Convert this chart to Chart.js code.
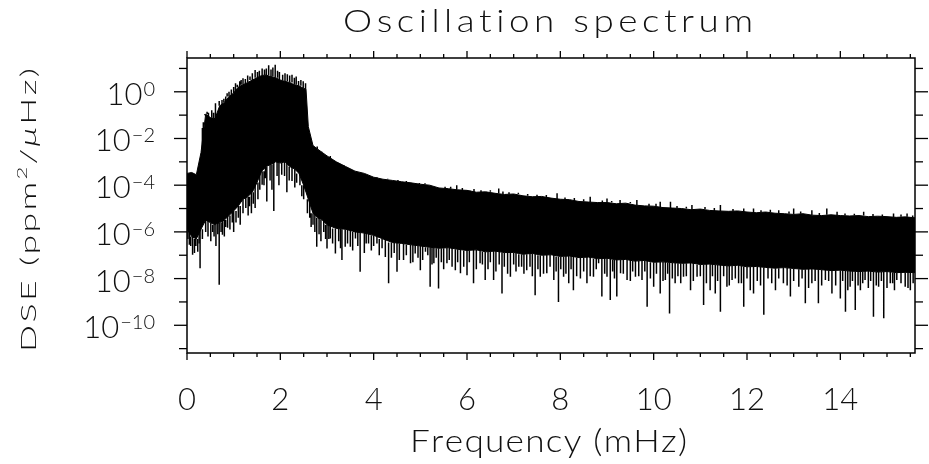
<!DOCTYPE html>
<html>
<head>
<meta charset="utf-8">
<title>Oscillation spectrum</title>
<script src="https://cdn.jsdelivr.net/npm/chart.js@4.4.1/dist/chart.umd.min.js"></script>
<style>
  html, body { margin: 0; padding: 0; background: #fff; }
  #wrap { width: 929px; height: 464px; }
</style>
</head>
<body>
<div id="wrap"><canvas id="spectrum" width="929" height="464"></canvas></div>
<script>
// Frequency grid (mHz) for the envelope of the spectrum
const freq = [
  0, 0.1, 0.2, 0.3, 0.4, 0.5, 0.6, 0.7, 0.8, 0.9,
  1.0, 1.1, 1.2, 1.3, 1.4, 1.5, 1.6, 1.7, 1.8, 1.9,
  2.0, 2.1, 2.2, 2.3, 2.4, 2.5, 2.55, 2.6, 2.7, 2.8, 2.9,
  3.0, 3.2, 3.4, 3.6, 3.8, 4.0, 4.2, 4.4, 4.6, 4.8,
  5.0, 5.2, 5.4, 5.6, 5.8, 6.0, 6.2, 6.4, 6.6, 6.8,
  7.0, 7.2, 7.4, 7.6, 7.8, 8.0, 8.2, 8.4, 8.6, 8.8,
  9.0, 9.2, 9.4, 9.6, 9.8, 10.0, 10.2, 10.4, 10.6, 10.8,
  11.0, 11.2, 11.4, 11.6, 11.8, 12.0, 12.2, 12.4, 12.6, 12.8,
  13.0, 13.2, 13.4, 13.6, 13.8, 14.0, 14.2, 14.4, 14.6, 14.8,
  15.0, 15.2, 15.4, 15.6
];

// Top edge of the dense black band (ppm^2/uHz)
const upper = [
  3.2e-4, 3.5e-4, 2.8e-4, 2.5e-3, 0.11, 0.079, 0.071, 0.25, 0.35, 0.63,
  0.89, 1.6, 2.0, 2.5, 3.2, 4.0, 5.0, 5.2, 4.5, 4.0,
  3.2, 2.8, 2.5, 2.0, 1.8, 1.4, 1.3, 0.032, 5.0e-3, 3.5e-3, 2.5e-3,
  1.8e-3, 1.0e-3, 6.3e-4, 4.0e-4, 3.2e-4, 2.2e-4, 1.8e-4, 1.6e-4, 1.4e-4, 1.26e-4,
  1.1e-4, 1.0e-4, 7.6e-5, 7.1e-5, 6.3e-5, 6.0e-5, 5.0e-5, 5.2e-5, 4.5e-5, 4.0e-5,
  4.2e-5, 3.5e-5, 3.2e-5, 3.3e-5, 2.8e-5, 2.5e-5, 2.4e-5, 2.0e-5, 1.9e-5, 1.8e-5,
  1.8e-5, 1.6e-5, 1.7e-5, 1.4e-5, 1.3e-5, 1.26e-5, 1.1e-5, 1.05e-5, 1.0e-5, 8.9e-6,
  9.5e-6, 8.3e-6, 7.9e-6, 7.6e-6, 7.9e-6, 7.1e-6, 6.6e-6, 7.1e-6, 6.3e-6, 6.0e-6,
  5.6e-6, 6.0e-6, 5.2e-6, 5.0e-6, 5.4e-6, 5.0e-6, 4.8e-6, 5.0e-6, 4.5e-6, 4.7e-6,
  4.5e-6, 4.2e-6, 4.4e-6, 4.0e-6
];

// Bottom edge of the dense black band
const lower = [
  1.3e-6, 6.3e-7, 5.0e-7, 1.3e-6, 3.2e-6, 2.5e-6, 2.0e-6, 2.5e-6, 3.2e-6, 5.0e-6,
  7.9e-6, 1.3e-5, 2.5e-5, 3.2e-5, 5.0e-5, 1.3e-4, 4.0e-4, 6.3e-4, 7.9e-4, 1.0e-3,
  8.9e-4, 1.0e-3, 6.3e-4, 5.0e-4, 3.2e-4, 1.0e-4, 5.0e-5, 2.5e-5, 6.3e-6, 4.0e-6, 3.2e-6,
  2.0e-6, 1.4e-6, 1.3e-6, 1.0e-6, 8.9e-7, 7.1e-7, 5.0e-7, 3.5e-7, 3.2e-7, 2.8e-7,
  2.5e-7, 2.2e-7, 2.0e-7, 2.1e-7, 1.8e-7, 1.6e-7, 1.7e-7, 1.4e-7, 1.5e-7, 1.3e-7,
  1.32e-7, 1.1e-7, 1.2e-7, 1.0e-7, 1.05e-7, 8.9e-8, 9.3e-8, 7.9e-8, 8.3e-8, 7.1e-8,
  7.4e-8, 6.3e-8, 6.6e-8, 5.6e-8, 6.0e-8, 5.0e-8, 5.2e-8, 4.8e-8, 4.5e-8, 4.7e-8,
  4.0e-8, 4.2e-8, 3.8e-8, 3.5e-8, 3.7e-8, 3.2e-8, 3.3e-8, 3.0e-8, 2.8e-8, 2.95e-8,
  2.7e-8, 2.5e-8, 2.6e-8, 2.4e-8, 2.2e-8, 2.3e-8, 2.1e-8, 2.0e-8, 2.1e-8, 1.9e-8,
  2.0e-8, 1.8e-8, 1.85e-8, 1.8e-8
];

// Deep downward spikes below the band: frequency and tip value
const dipFreq = [
  0.05, 0.12, 0.23, 0.28, 0.51, 0.58, 0.69, 0.76, 0.87, 1.05,
  1.26, 1.38, 1.46, 1.61, 1.71, 1.86, 2.03, 2.25, 2.46, 2.7,
  2.78, 3.0, 3.07, 3.18, 3.32, 3.39, 3.5, 3.61, 3.71, 3.89,
  4.07, 4.25, 4.32, 4.5, 4.64, 4.79, 4.89, 5.0, 5.11, 5.21,
  5.29, 5.39, 5.57, 5.75, 5.86, 6.0, 6.14, 6.28, 6.39, 6.57,
  6.75, 6.93, 7.11, 7.28, 7.46, 7.57, 7.71, 7.86, 7.96, 8.07,
  8.18, 8.28, 8.43, 8.57, 8.71, 8.82, 8.89, 9.0, 9.07, 9.21,
  9.29, 9.43, 9.61, 9.75, 9.86, 10.0, 10.14, 10.25, 10.34, 10.46,
  10.64, 10.79, 10.93, 11.07, 11.21, 11.32, 11.43, 11.57, 11.68, 11.82,
  11.93, 12.07, 12.14, 12.36, 12.61, 12.78, 12.93, 13.11, 13.25, 13.39,
  13.53, 13.68, 13.82, 14.0, 14.11, 14.21, 14.32, 14.43, 14.53, 14.71,
  14.82, 14.93, 15.07, 15.21, 15.39, 15.5
];
const dipValue = [
  2.8e-7, 1.05e-7, 1.4e-7, 2.8e-8, 4.0e-7, 6.3e-7, 5.5e-9, 7.6e-7, 1.5e-6, 2.5e-6,
  1.05e-5, 6.3e-6, 1.05e-5, 1.05e-4, 2.0e-5, 7.8e-6, 2.8e-4, 1.5e-4, 3.4e-5, 2.0e-6,
  2.3e-7, 1.95e-7, 5.2e-7, 1.2e-7, 6.2e-8, 2.3e-7, 2.3e-7, 5.2e-7, 1.95e-8, 3.2e-7,
  3.2e-7, 8.5e-8, 6.3e-9, 1.95e-8, 6.2e-8, 4.5e-8, 1.2e-7, 2.3e-8, 1.4e-7, 4.5e-9,
  4.5e-8, 3.8e-9, 4.5e-8, 2.3e-8, 1.7e-8, 1.4e-8, 6.3e-9, 4.5e-8, 8.7e-9, 8.7e-9,
  2.3e-9, 1.2e-8, 3.2e-8, 2.3e-8, 1.95e-9, 1.2e-8, 1.7e-8, 8.7e-9, 1.0e-9, 1.2e-8,
  6.3e-9, 3.2e-9, 1.0e-8, 6.3e-9, 1.2e-8, 4.5e-8, 1.7e-9, 1.2e-8, 1.2e-9, 1.7e-9,
  1.7e-8, 8.7e-9, 1.2e-8, 8.7e-9, 6.2e-10, 4.5e-9, 2.3e-9, 8.7e-9, 3.2e-10, 6.3e-9,
  1.2e-8, 3.2e-9, 1.2e-8, 7.4e-10, 3.2e-9, 2.3e-9, 3.8e-10, 4.5e-9, 8.7e-9, 6.3e-9,
  6.2e-10, 3.2e-9, 2.3e-9, 2.8e-10, 3.2e-9, 6.3e-9, 1.7e-9, 4.5e-9, 8.7e-10, 6.3e-9,
  8.7e-10, 8.7e-9, 2.3e-9, 1.4e-9, 3.8e-10, 4.5e-9, 4.5e-10, 3.2e-9, 8.7e-9, 2.3e-10,
  4.5e-9, 2.0e-10, 6.3e-9, 8.7e-9, 4.5e-9, 3.2e-9
];

// Shorter spikes that make the ragged lower fringe
const fringeDipFreq = [
  0.02, 0.08, 0.16, 0.19, 0.26, 0.33, 0.4, 0.45, 0.55, 0.62,
  0.66, 0.73, 0.8, 0.83, 0.92, 0.97, 1.0, 1.1, 1.14, 1.2,
  1.31, 1.34, 1.42, 1.52, 1.56, 1.65, 1.68, 1.78, 1.82, 1.93,
  1.97, 2.09, 2.14, 2.19, 2.31, 2.35, 2.42, 2.5, 2.58, 2.63,
  2.66, 2.74, 2.83, 2.87, 2.93, 2.97,
  3.04, 3.12, 3.25, 3.29, 3.44, 3.55, 3.66, 3.8, 3.84, 3.95,
  4.0, 4.12, 4.18, 4.38, 4.44, 4.55, 4.7, 4.84, 4.95, 5.05,
  5.16, 5.25, 5.34, 5.45, 5.5, 5.62, 5.68, 5.8, 5.93, 6.05,
  6.2, 6.33, 6.45, 6.5, 6.62, 6.69, 6.8, 6.87, 7.0, 7.05,
  7.17, 7.22, 7.35, 7.4, 7.52, 7.64, 7.78, 7.91, 8.01, 8.12,
  8.23, 8.35, 8.5, 8.64, 8.77, 8.95, 9.12, 9.16, 9.35, 9.5,
  9.55, 9.68, 9.81, 9.93, 10.06, 10.2, 10.3, 10.4, 10.52, 10.58,
  10.7, 10.85, 11.0, 11.13, 11.26, 11.37, 11.5, 11.62, 11.75, 11.88,
  12.0, 12.22, 12.29, 12.45, 12.53, 12.68, 12.86, 13.0, 13.18, 13.32,
  13.46, 13.6, 13.75, 13.9, 14.05, 14.16, 14.26, 14.38, 14.48, 14.6,
  14.65, 14.77, 14.88, 15.0, 15.12, 15.16, 15.3, 15.45, 15.56
];
const fringeDipValue = [
  5.0e-7, 2.5e-7, 1.26e-7, 2.5e-7, 3.2e-7, 5.0e-7, 1.0e-6, 6.3e-7, 1.0e-6, 2.5e-7,
  7.9e-7, 1.0e-6, 6.3e-7, 1.6e-6, 1.26e-6, 2.5e-6, 1.0e-6, 4.0e-6, 2.0e-6, 6.3e-6,
  5.0e-6, 1.26e-5, 1.6e-5, 2.5e-5, 6.3e-5, 1.0e-4, 2.0e-4, 1.6e-4, 6.3e-5, 2.5e-4,
  1.0e-4, 2.5e-4, 5.0e-5, 1.6e-4, 7.9e-5, 1.26e-4, 1.0e-4, 2.5e-5, 6.3e-6, 4.0e-6,
  1.6e-6, 1.0e-6, 7.9e-7, 4.0e-7, 1.0e-6, 5.0e-7,
  5.0e-7, 3.2e-7, 4.0e-7, 2.0e-7, 3.2e-7, 1.6e-7, 2.5e-7, 1.26e-7, 3.2e-7, 1.6e-7,
  2.5e-7, 1.0e-7, 2.0e-7, 7.9e-8, 1.26e-7, 6.3e-8, 1.0e-7, 5.0e-8, 7.9e-8, 6.3e-8,
  1.0e-7, 4.0e-8, 7.9e-8, 5.0e-8, 2.5e-8, 6.3e-8, 3.2e-8, 5.0e-8, 3.2e-8, 5.0e-8,
  2.5e-8, 4.0e-8, 2.5e-8, 5.0e-8, 2.0e-8, 4.0e-8, 3.2e-8, 1.6e-8, 4.0e-8, 2.0e-8,
  3.2e-8, 1.6e-8, 3.2e-8, 1.26e-8, 2.5e-8, 1.6e-8, 3.2e-8, 2.0e-8, 2.5e-8, 1.6e-8,
  2.5e-8, 1.26e-8, 2.0e-8, 1.26e-8, 2.5e-8, 1.6e-8, 2.0e-8, 1.0e-8, 1.6e-8, 7.9e-9,
  2.0e-8, 1.26e-8, 2.0e-8, 1.0e-8, 1.6e-8, 7.9e-9, 1.6e-8, 1.0e-8, 1.26e-8, 6.3e-9,
  1.26e-8, 7.9e-9, 1.26e-8, 6.3e-9, 1.26e-8, 7.9e-9, 1.26e-8, 5.0e-9, 1.0e-8, 6.3e-9,
  1.0e-8, 7.9e-9, 5.0e-9, 1.0e-8, 6.3e-9, 1.0e-8, 5.0e-9, 7.9e-9, 1.0e-8, 4.0e-9,
  7.9e-9, 5.0e-9, 7.9e-9, 5.0e-9, 7.9e-9, 3.2e-9, 7.9e-9, 5.0e-9, 6.3e-9, 4.0e-9,
  7.9e-9, 5.0e-9, 7.9e-9, 4.0e-9, 6.3e-9, 3.2e-9, 6.3e-9, 4.0e-9, 6.3e-9
];

// Upward spikes above the band
const peakFreq = [
  0.33, 0.35, 0.38, 0.43, 0.46, 0.53, 0.57, 0.61, 0.65, 0.69,
  0.75, 0.79, 0.83, 0.86, 0.9, 0.95, 1.0, 1.04, 1.08, 1.13,
  1.16, 1.2, 1.25, 1.3, 1.35, 1.4, 1.46, 1.51, 1.55, 1.61,
  1.66, 1.7, 1.75, 1.8, 1.84, 1.89, 1.94, 1.98, 2.05, 2.1,
  2.15, 2.2, 2.25, 2.3, 2.34, 2.39, 2.44, 2.49, 2.54,
  2.79, 2.89, 3.07, 3.36, 3.54, 3.75, 4.07, 4.3, 4.52, 4.7,
  4.98, 5.1, 5.3, 5.53, 5.65, 5.78, 5.9, 6.07, 6.15, 6.3,
  6.5, 6.68, 6.77, 6.9, 7.1, 7.3, 7.5, 7.7, 7.93, 8.1,
  8.3, 8.5, 8.64, 8.9, 9.0, 9.1, 9.28, 9.5, 9.64, 9.9,
  10.05, 10.14, 10.36, 10.5, 10.7, 10.82, 11.1, 11.3, 11.43, 11.7,
  11.93, 12.14, 12.3, 12.5, 12.68, 12.9, 13.0, 13.15, 13.39, 13.55,
  13.71, 13.93, 14.1, 14.3, 14.5, 14.7, 14.9, 15.14, 15.3, 15.43,
  15.55
];
const peakValue = [
  0.028, 0.05, 0.1, 0.14, 0.126, 0.16, 0.126, 0.32, 0.25, 0.4,
  0.45, 0.5, 0.63, 0.87, 1.0, 1.26, 1.6, 2.3, 2.0, 2.8,
  3.2, 3.8, 3.5, 5.0, 4.5, 6.3, 8.5, 7.1, 7.9, 10,
  8.9, 10, 13.8, 8.9, 11, 14.5, 7.9, 7.1, 5.4, 6.3,
  5.6, 5.0, 5.4, 4.0, 4.5, 2.9, 3.2, 2.8, 2.3,
  4.5e-3, 2.7e-3, 1.4e-3, 7.2e-4, 4.5e-4, 2.7e-4, 1.95e-4, 1.9e-4, 1.65e-4, 1.5e-4,
  1.25e-4, 1.2e-4, 1.0e-4, 8.5e-5, 8.5e-5, 1.0e-4, 7.5e-5, 6.2e-5, 6.8e-5, 6.0e-5,
  6.0e-5, 7.2e-5, 5.3e-5, 5.0e-5, 4.8e-5, 4.2e-5, 3.9e-5, 3.8e-5, 4.5e-5, 3.0e-5,
  2.8e-5, 2.5e-5, 3.2e-5, 2.2e-5, 2.7e-5, 2.1e-5, 2.3e-5, 1.9e-5, 2.3e-5, 1.6e-5,
  1.6e-5, 1.95e-5, 1.95e-5, 1.3e-5, 1.2e-5, 1.4e-5, 1.15e-5, 1.05e-5, 1.4e-5, 9.5e-6,
  1.0e-5, 1.0e-5, 8.5e-6, 8.8e-6, 8.5e-6, 7.4e-6, 1.0e-5, 7.5e-6, 8.5e-6, 6.5e-6,
  1.0e-5, 7.2e-6, 6.2e-6, 6.0e-6, 7.2e-6, 5.8e-6, 5.6e-6, 6.2e-6, 5.5e-6, 6.2e-6,
  5.0e-6
];

// Axes
const xRange = [0, 15.6];
const yRange = [6.5e-12, 28];
const xTickLabels = [0, 2, 4, 6, 8, 10, 12, 14];
const yTickExponents = [0, -2, -4, -6, -8, -10];

const FONT = 'Lato, "DejaVu Sans", sans-serif';
const INK = '#111';

/**
 * Index of the grid frequency closest to f
 * @param {number} f
 * @return {number}
 */
function nearestIndex(f) {
  return freq.reduce((best, g, i) => Math.abs(g - f) < Math.abs(freq[best] - f) ? i : best, 0);
}

/**
 * Vertical strokes from the band edge to each spike tip, separated by gaps
 */
function spikeSegments(freqs, values, edge) {
  const out = [];
  freqs.forEach((f, i) => {
    out.push({x: f, y: edge[nearestIndex(f)]}, {x: f, y: values[i]}, {x: f, y: null});
  });
  return out;
}

/**
 * Draw text with its characters spread evenly over a given width,
 * glyphs widened by sx
 * @param {CanvasRenderingContext2D} ctx
 * @param {Array<Object>} parts  {text, font, dy}
 */
function drawSpread(ctx, parts, x, y, width, sx = 1) {
  const glyphs = [];
  parts.forEach(p => {
    ctx.font = p.font;
    for (const ch of p.text) {
      glyphs.push({ch, font: p.font, dy: p.dy || 0, w: ctx.measureText(ch).width});
    }
  });
  const total = glyphs.reduce((s, g) => s + g.w, 0);
  const gap = glyphs.length > 1 ? (width / sx - total) / (glyphs.length - 1) : 0;
  ctx.save();
  ctx.translate(x, y);
  ctx.scale(sx, 1);
  let cx = 0;
  glyphs.forEach(g => {
    ctx.font = g.font;
    ctx.fillText(g.ch, cx, g.dy);
    cx += g.w + gap;
  });
  ctx.restore();
}

// Frame, IDL style ticks on all four sides and all the text
const idlFrame = {
  id: 'idlFrame',
  afterDraw(chart) {
    const {ctx, chartArea: a, scales: {x, y}} = chart;
    const seg = (x1, y1, x2, y2) => {
      ctx.beginPath();
      ctx.moveTo(x1, y1);
      ctx.lineTo(x2, y2);
      ctx.stroke();
    };
    ctx.save();
    ctx.strokeStyle = '#000';
    ctx.lineWidth = 1.5;
    ctx.strokeRect(a.left, a.top, a.right - a.left, a.bottom - a.top);

    ctx.lineWidth = 1.3;
    for (let f = 0; f <= xRange[1]; f += 0.5) {
      const px = x.getPixelForValue(f);
      const len = f % 2 === 0 ? 7 : 4;
      seg(px, a.bottom, px, a.bottom + len);
      seg(px, a.top, px, a.top - len);
    }
    for (let e = 1; e >= -11; e--) {
      const py = y.getPixelForValue(Math.pow(10, e));
      const len = e % 2 === 0 ? 13 : 8;
      seg(a.left, py, a.left - len, py);
      seg(a.right, py, a.right + len, py);
    }

    ctx.fillStyle = INK;
    ctx.textBaseline = 'alphabetic';

    // x tick labels
    ctx.font = `300 31px ${FONT}`;
    ctx.textAlign = 'center';
    xTickLabels.forEach(v => ctx.fillText(String(v), x.getPixelForValue(v), 410));

    // y tick labels 10^n
    ctx.textAlign = 'left';
    yTickExponents.forEach(e => {
      const py = y.getPixelForValue(Math.pow(10, e));
      const sup = e === 0 ? '0' : '\u2212' + Math.abs(e);
      ctx.font = `300 20px ${FONT}`;
      const supW = ctx.measureText(sup).width;
      ctx.font = `300 31px ${FONT}`;
      const baseW = ctx.measureText('10').width;
      const right = 155;
      ctx.fillText('10', right - supW - baseW - 1, py + 13);
      ctx.font = `300 20px ${FONT}`;
      ctx.fillText(sup, right - supW, py + 4);
    });

    // title and x axis title
    drawSpread(ctx, [{text: 'Oscillation spectrum', font: `300 32px ${FONT}`}], 343, 32, 410, 1.15);
    drawSpread(ctx, [{text: 'Frequency (mHz)', font: `300 32px ${FONT}`}], 410, 452, 277, 1.1);

    // y axis title, rotated and stretched along its length
    ctx.save();
    ctx.translate(36, 352);
    ctx.rotate(-Math.PI / 2);
    drawSpread(ctx, [
      {text: 'DSE (ppm', font: `300 21px ${FONT}`},
      {text: '2', font: `300 13px ${FONT}`, dy: -9},
      {text: '/', font: `300 21px ${FONT}`},
      {text: '\u03bc', font: `italic 300 21px ${FONT}`},
      {text: 'Hz)', font: `300 21px ${FONT}`}
    ], 0, 0, 284, 1.7);
    ctx.restore();

    ctx.restore();
  }
};

const band = {pointRadius: 0, borderColor: '#000', borderWidth: 1, tension: 0, fill: false};
const spikes = {...band, borderWidth: 1.5, spanGaps: false};

new Chart(document.getElementById('spectrum'), {
  type: 'line',
  data: {
    datasets: [
      {...band, label: 'upper', data: freq.map((f, i) => ({x: f, y: upper[i]})),
        backgroundColor: '#000', fill: '+1'},
      {...band, label: 'lower', data: freq.map((f, i) => ({x: f, y: lower[i]}))},
      {...spikes, label: 'dips', data: spikeSegments(dipFreq, dipValue, lower)},
      {...spikes, label: 'fringe', data: spikeSegments(fringeDipFreq, fringeDipValue, lower)},
      {...spikes, label: 'peaks', data: spikeSegments(peakFreq, peakValue, upper)}
    ]
  },
  options: {
    responsive: false,
    animation: false,
    devicePixelRatio: 1,
    events: [],
    layout: {padding: {left: 187, right: 14, top: 58, bottom: 111}},
    plugins: {legend: {display: false}, tooltip: {enabled: false}},
    scales: {
      x: {type: 'linear', display: false, min: xRange[0], max: xRange[1]},
      y: {type: 'logarithmic', display: false, min: yRange[0], max: yRange[1]}
    }
  },
  plugins: [idlFrame]
});
</script>
</body>
</html>
